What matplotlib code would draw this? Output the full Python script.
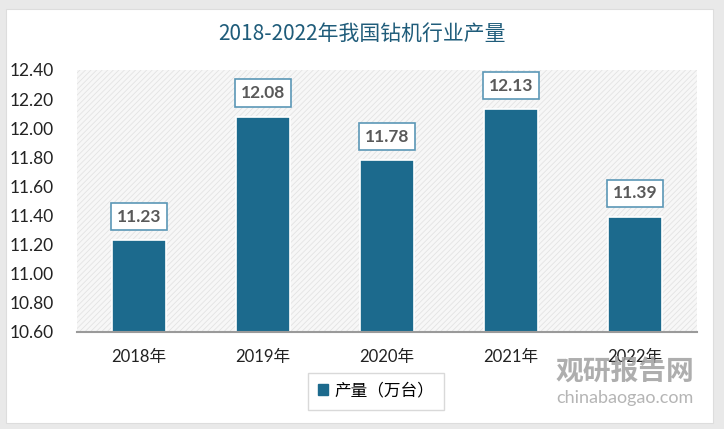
import matplotlib
matplotlib.use("Agg")
import matplotlib.pyplot as plt
from matplotlib.patches import Rectangle
import matplotlib.patches as mpatches

categories = ["2018年", "2019年", "2020年", "2021年", "2022年"]
values = [11.23, 12.08, 11.78, 12.13, 11.39]
yticks = [10.60, 10.80, 11.00, 11.20, 11.40, 11.60, 11.80, 12.00, 12.20, 12.40]
series_name = "产量（万台）"
title = "2018-2022年我国钻机行业产量"

plt.rcParams['font.family'] = ['Lato', 'Noto Sans CJK SC', 'DejaVu Sans']
plt.rcParams['hatch.linewidth'] = 0.6

W, H = 724, 429
fig = plt.figure(figsize=(W/100, H/100), dpi=100)
fig.patch.set_facecolor('#e9e9e9')
card = Rectangle((6/W, 6/H), (713-6)/W, (420-6)/H, transform=fig.transFigure,
                 facecolor='white', edgecolor='#dddddd', lw=0.8, zorder=-5)
fig.patches.append(card)

ax = fig.add_axes([77/W, 1-332/H, (697-77)/W, (332-70)/H])
ax.set_zorder(2)
ax.set_facecolor('none')
bg = Rectangle((0, 0), 1, 1, transform=ax.transAxes, facecolor='#f7f7f7',
               edgecolor='#e3e3e3', hatch='//////', lw=0, zorder=0)
ax.add_patch(bg)

bar_color = '#1c6a8d'
x = list(range(len(categories)))
bars = ax.bar(x, values, width=0.44, color=bar_color, edgecolor='white', linewidth=1.2, zorder=2)
ax.set_xlim(-0.5, len(categories)-0.5)
ax.set_ylim(10.60, 12.40)
ax.set_yticks(yticks)
ax.set_yticklabels([f"{v:.2f}" for v in yticks], fontsize=12.5, color='#222222')
ax.set_xticks(x)
ax.set_xticklabels(categories, fontsize=12, color='#222222')
ax.tick_params(axis='both', length=0)
ax.tick_params(axis='y', pad=17)
ax.tick_params(axis='x', pad=12)
for s in ['top', 'right', 'left']:
    ax.spines[s].set_visible(False)
ax.spines['bottom'].set_color('#9a9a9a')
ax.spines['bottom'].set_linewidth(1.5)
ax.spines['bottom'].set_zorder(3)

for xi, v in zip(x, values):
    ax.annotate(f"{v:.2f}", (xi, v), xytext=(0, 17), textcoords='offset points',
                ha='center', va='center', fontsize=12.5, fontweight='bold', color='#595959',
                bbox=dict(boxstyle='square,pad=0.33', facecolor='white', edgecolor='#5b97b6', lw=1.2),
                zorder=4)

fig.text(362/W, 1-34/H, title, ha='center', va='center', fontsize=15, color='#1f5c7a',
         family=['Noto Sans CJK SC', 'DejaVu Sans'])

handle = mpatches.Patch(color=bar_color, label=series_name)
leg = fig.legend(handles=[handle], loc='center', bbox_to_anchor=(376/W, 1-391/H),
                 fontsize=12, frameon=True, fancybox=False, edgecolor='#d0d0d0',
                 handlelength=0.6, handleheight=0.6, handletextpad=0.4, borderpad=0.6,
                 prop={'family': ['Noto Sans CJK SC', 'DejaVu Sans'], 'size': 12})
leg.get_frame().set_linewidth(1.0)

# watermark
fig.text(625/W, 1-372/H, "观研报告网", ha='center', va='center', fontsize=20, fontweight='bold',
         color='#a0a0a0', alpha=0.85, family=['Noto Sans CJK SC', 'DejaVu Sans'])
fig.text(625/W, 1-398/H, "chinabaogao.com", ha='center', va='center', fontsize=13,
         color='#a8a8a8', alpha=0.85)

fig.savefig('out.png', dpi=100, facecolor=fig.get_facecolor())
